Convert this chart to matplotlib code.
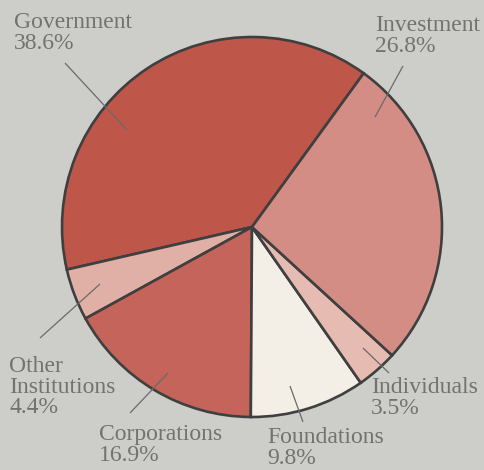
import matplotlib
matplotlib.use("Agg")
import matplotlib.pyplot as plt

# Sources of funding, share of total (%)
sources = ["Government", "Other\nInstitutions", "Corporations", "Foundations",
           "Individuals", "Investment"]
shares = [38.6, 4.4, 16.9, 9.8, 3.5, 26.8]
colors = ["#BE5649", "#E0AFA5", "#C4645A", "#F3EEE6", "#E5BBB2", "#D38D85"]

# label anchor (left, top) in pixels and leader line (outer end, inner end)
label_pos = [(14, 12), (9, 356), (99, 424), (267, 427), (371, 377), (375, 15)]
leaders = [((65, 63), (127, 130)), ((40, 338), (100, 284)),
           ((130, 413), (168, 373)), ((303, 422), (290, 386)),
           ((389, 373), (363, 348)), ((403, 66), (375, 117))]

W, H = 484, 470
fig = plt.figure(figsize=(W / 100, H / 100), dpi=100)
fig.patch.set_facecolor("#CDCDCA")
ax = fig.add_axes([0, 0, 1, 1])
ax.set_facecolor("#CDCDCA")

# y axis runs downward, so the wedges are laid clockwise in data space
ax.pie(shares, colors=colors, center=(252, 227), radius=190,
       startangle=-54, counterclock=False, frame=False,
       wedgeprops=dict(edgecolor="#3F3F3F", linewidth=1.9))
ax.set_xlim(0, W)
ax.set_ylim(H, 0)
ax.set_aspect("equal")
ax.axis("off")

for (p0, p1) in leaders:
    ax.plot([p0[0], p1[0]], [p0[1], p1[1]], color="#6A6A6A", lw=0.9,
            solid_capstyle="butt")

for name, val, (x, y) in zip(sources, shares, label_pos):
    ax.text(x, y, f"{name}\n{val}%", ha="left", va="top",
            fontsize=17, family="Liberation Serif", color="#727272",
            linespacing=0.98)

fig.savefig("out.png", dpi=100, facecolor=fig.get_facecolor())
